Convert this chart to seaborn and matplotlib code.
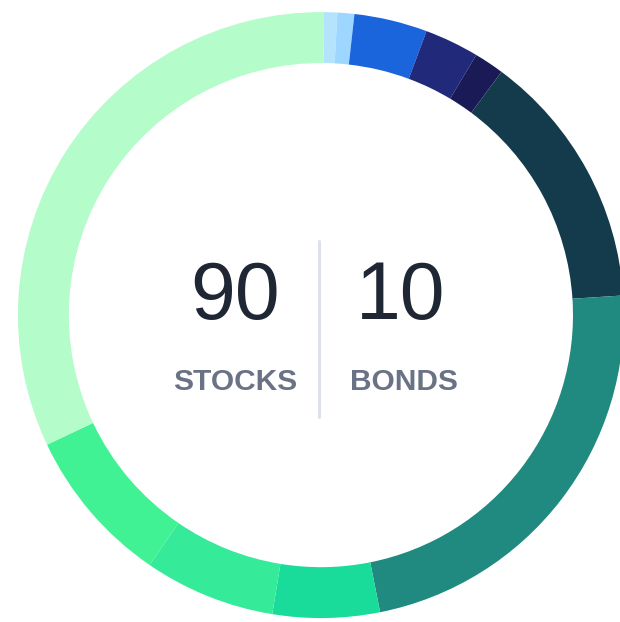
import seaborn as sns
import matplotlib.pyplot as plt

# holdings, clockwise from the top: bonds first, then stocks
names = ['Bond A', 'Bond B', 'Bond C', 'Bond D', 'Bond E',
         'Stock A', 'Stock B', 'Stock C', 'Stock D', 'Stock E', 'Stock F']
weights = [0.7, 0.9, 3.9, 2.9, 1.6,
           13.8, 22.9, 5.7, 7.0, 8.4, 32.2]
colors = ['#b3e3fd', '#9dd7ff', '#1a65dc', '#20297a', '#1a1a56',
          '#143b4b', '#208a80', '#1adc9a', '#35eb9a', '#41f294', '#b4fcc9']

totals = [90, 10]
total_labels = ['STOCKS', 'BONDS']

sns.set_theme(style='white')
plt.rcParams['font.family'] = ['Liberation Sans', 'DejaVu Sans']

fig = plt.figure(figsize=(6.2, 6.22), dpi=100)
ax = fig.add_axes([0, 0, 1, 1])

ax.pie(weights, colors=colors, startangle=89.4, counterclock=False,
       radius=1.0, wedgeprops=dict(width=0.168, linewidth=0, antialiased=True))

# center text
for x, val in zip([-0.283, 0.264], totals):
    ax.text(x, 0.055, str(val), ha='center', va='center', fontsize=58,
            color='#1e2733')
for x, lab in zip([-0.283, 0.275], total_labels):
    ax.text(x, -0.222, lab, ha='center', va='center', fontsize=21.5,
            color='#6a7285', fontweight='bold')

ax.plot([-0.005, -0.005], [0.245, -0.335], color='#dde1ea', lw=2.2)

ax.set_xlim(-1.059, 0.987)
ax.set_ylim(-1.013, 1.040)
ax.axis('off')

fig.savefig('out.png', dpi=100)
